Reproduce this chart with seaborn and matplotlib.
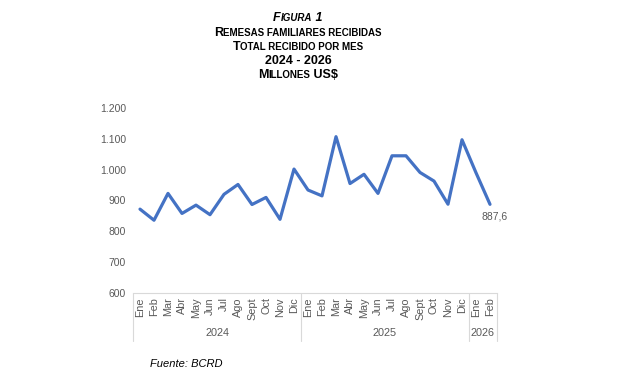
import matplotlib
matplotlib.use("Agg")
import matplotlib.pyplot as plt
import matplotlib.transforms as mtransforms
import seaborn as sns
import pandas as pd

# datos (millones US$)
meses = ["Ene", "Feb", "Mar", "Abr", "May", "Jun", "Jul", "Ago", "Sept", "Oct", "Nov", "Dic",
         "Ene", "Feb", "Mar", "Abr", "May", "Jun", "Jul", "Ago", "Sept", "Oct", "Nov", "Dic",
         "Ene", "Feb"]
anios = ["2024", "2025", "2026"]
meses_por_anio = [12, 12, 2]
remesas = [872, 836, 923, 858, 885, 854, 920, 952, 887, 910, 839, 1002,
           934, 915, 1107, 955, 985, 923, 1045, 1045, 991, 963, 888, 1097,
           990, 887.6]
yticks = [600, 700, 800, 900, 1000, 1100, 1200]

df = pd.DataFrame({"idx": range(len(remesas)), "valor": remesas})

sns.set_style("white")
plt.rcParams["font.family"] = ["Liberation Sans", "DejaVu Sans"]

gris = "#595959"
azul = "#4472C4"

fig = plt.figure(figsize=(6.2, 3.8), dpi=100)
ax = fig.add_axes([133 / 620, 1 - 293 / 380, 364 / 620, 185 / 380])

sns.lineplot(data=df, x="idx", y="valor", ax=ax, color=azul, linewidth=2.3)

ax.set_xlim(-0.5, len(remesas) - 0.5)
ax.set_ylim(600, 1200)
ax.set_yticks(yticks)
ax.set_yticklabels([f"{v:,}".replace(",", ".") for v in yticks], color=gris, fontsize=7.5)
ax.set_xticks(range(len(meses)))
ax.set_xticklabels(meses, rotation=90, color=gris, fontsize=7.8)
ax.tick_params(axis="both", length=0, pad=5)
ax.tick_params(axis="x", pad=3)
ax.set_xlabel("")
ax.set_ylabel("")
for s in ["top", "right", "left"]:
    ax.spines[s].set_visible(False)
ax.spines["bottom"].set_color("#d9d9d9")
ax.spines["bottom"].set_linewidth(0.8)

# separadores de año y etiquetas de año
trans = mtransforms.blended_transform_factory(ax.transData, fig.transFigure)
inicio = -0.5
bordes = [inicio]
for anio, n in zip(anios, meses_por_anio):
    fin = inicio + n
    bordes.append(fin)
    ax.text((inicio + fin) / 2, 1 - 333 / 380, anio, transform=trans,
            ha="center", va="center", color=gris, fontsize=7.8)
    inicio = fin
for b in bordes:
    ax.plot([b, b], [1 - 293 / 380, 1 - 341 / 380], transform=trans,
            color="#d9d9d9", linewidth=0.8, clip_on=False)

# etiqueta del último dato
ax.annotate(f"{remesas[-1]:.1f}".replace(".", ","), (len(remesas) - 1, remesas[-1]),
            xytext=(3, -9), textcoords="offset points", ha="center", va="center",
            color=gris, fontsize=7.5)

# título en versalitas
renderer = fig.canvas.get_renderer()


def versalitas(partes, y, style="normal"):
    objs = []
    for txt, size in partes:
        objs.append(fig.text(0, y, txt, fontsize=size, fontweight="bold",
                             style=style, ha="left", va="baseline", color="black"))
    anchos = [o.get_window_extent(renderer).width for o in objs]
    total = sum(anchos)
    x = 298 - total / 2
    for o, w in zip(objs, anchos):
        o.set_x(x / 620)
        x += w


grande, chico = 9, 7
versalitas([("F", grande), ("IGURA", chico), (" 1", grande)], 1 - 21 / 380, style="italic")
versalitas([("R", grande), ("EMESAS FAMILIARES RECIBIDAS", chico)], 1 - 36 / 380)
versalitas([("T", grande), ("OTAL RECIBIDO POR MES", chico)], 1 - 50 / 380)
versalitas([("2024 - 2026", grande)], 1 - 64 / 380)
versalitas([("M", grande), ("ILLONES", chico), (" US$", grande)], 1 - 78 / 380)

fig.text(150 / 620, 1 - 367 / 380, "Fuente: BCRD", fontsize=8, style="italic", color="black")

fig.savefig("out.png", dpi=100)
